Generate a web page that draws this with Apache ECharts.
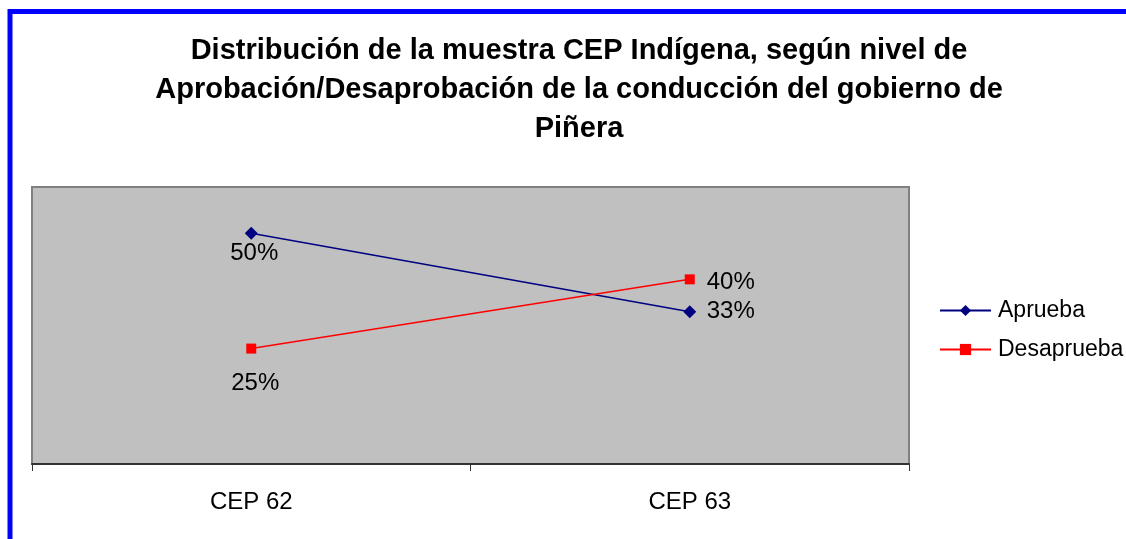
<!DOCTYPE html>
<html>
<head>
<meta charset="utf-8">
<script src="https://cdn.jsdelivr.net/npm/echarts@6/dist/echarts.min.js"></script>
<style>
  html, body { margin: 0; padding: 0; background: #fff; }
  #chart { width: 1126px; height: 539px; }
</style>
</head>
<body>
<div id="chart"></div>
<script>
const categories = ["CEP 62", "CEP 63"];
const aprueba = [50, 33];
const desaprueba = [25, 40];

// label offsets (label centred on the point, then shifted)
const apruebaOffsets = [[3, 20], [41, 0]];
const desapruebaOffsets = [[4, 35], [41, 3]];

const font = "Liberation Sans, Arial, sans-serif";

function withLabels(values, offsets) {
  return values.map((v, i) => ({
    value: v,
    label: { position: "inside", offset: offsets[i] },
  }));
}

const chart = echarts.init(document.getElementById("chart"));
chart.setOption({
  animation: false,
  textStyle: { fontFamily: font },
  title: {
    text: "Distribución de la muestra CEP Indígena, según nivel de\nAprobación/Desaprobación de la conducción del gobierno de\nPiñera",
    left: 574,
    top: 26,
    textAlign: "center",
    textStyle: {
      fontFamily: font,
      fontSize: 29,
      fontWeight: "bold",
      color: "#000",
      lineHeight: 39,
    },
  },
  legend: {
    orient: "vertical",
    left: 934,
    top: 294,
    itemWidth: 51,
    itemHeight: 14,
    itemGap: 16,
    textStyle: { fontFamily: font, fontSize: 23, color: "#000", padding: [0, 0, 0, 2] },
    data: ["Aprueba", "Desaprueba"],
  },
  graphic: [
    {
      type: "rect",
      z: -10,
      shape: { x: 10, y: 11.5, width: 1300, height: 700 },
      style: { fill: "none", stroke: "#0000ff", lineWidth: 5 },
    },
  ],
  grid: {
    left: 32,
    top: 187,
    right: 217,
    bottom: 75,
    show: true,
    backgroundColor: "#c0c0c0",
    borderColor: "#808080",
    borderWidth: 2,
  },
  xAxis: {
    type: "category",
    data: categories,
    boundaryGap: true,
    axisLine: { lineStyle: { color: "#333", width: 2 } },
    axisTick: { show: true, length: 7, interval: 0, lineStyle: { color: "#333" } },
    axisLabel: { color: "#000", fontSize: 24, fontFamily: font, margin: 26 },
  },
  yAxis: {
    type: "value",
    min: 0,
    max: 60,
    show: false,
    splitLine: { show: false },
  },
  series: [
    {
      name: "Aprueba",
      type: "line",
      data: withLabels(aprueba, apruebaOffsets),
      symbol: "diamond",
      symbolSize: 13,
      itemStyle: { color: "#000080" },
      lineStyle: { color: "#000080", width: 1.5 },
      label: { show: true, formatter: "{c}%", color: "#000", fontSize: 24, fontFamily: font },
    },
    {
      name: "Desaprueba",
      type: "line",
      data: withLabels(desaprueba, desapruebaOffsets),
      symbol: "rect",
      symbolSize: 10,
      itemStyle: { color: "#ff0000" },
      lineStyle: { color: "#ff0000", width: 1.5 },
      label: { show: true, formatter: "{c}%", color: "#000", fontSize: 24, fontFamily: font },
    },
  ],
});
</script>
</body>
</html>
